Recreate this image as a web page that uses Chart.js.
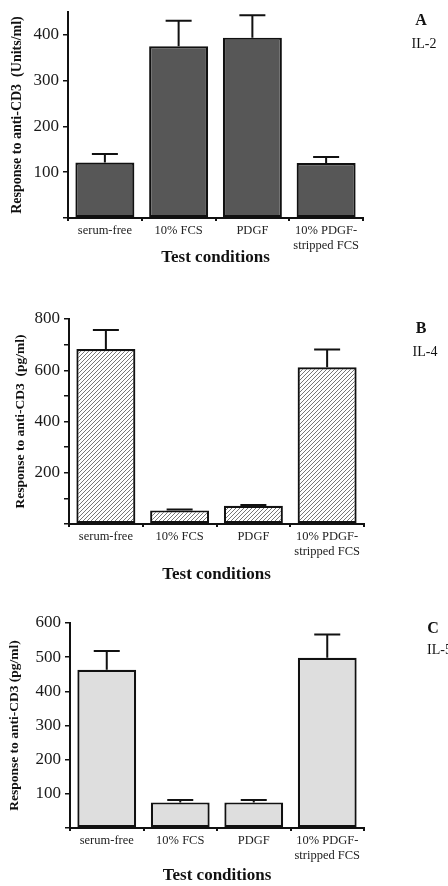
<!DOCTYPE html>
<html>
<head>
<meta charset="utf-8">
<script src="https://cdn.jsdelivr.net/npm/chart.js@4"></script>
<style>
  html, body { margin: 0; padding: 0; background: #fff; width: 448px; height: 886px; overflow: hidden; position: relative; }
  .box { position: absolute; left: 0; width: 448px; }
  .tag { position: absolute; font-family: "Liberation Serif", serif; color: #111; white-space: nowrap; transform: translate(-50%, -50%); }
</style>
</head>
<body>
<div class="box" style="top:0;height:270px"><canvas id="chartA"></canvas></div>
<div class="box" style="top:300px;height:290px"><canvas id="chartB"></canvas></div>
<div class="box" style="top:600px;height:286px"><canvas id="chartC"></canvas></div>

<div class="tag" style="left:421px;top:20px;font-weight:bold;font-size:16px">A</div>
<div class="tag" style="left:424px;top:44px;font-size:14px">IL-2</div>
<div class="tag" style="left:421px;top:328px;font-weight:bold;font-size:16px">B</div>
<div class="tag" style="left:425px;top:352px;font-size:14px">IL-4</div>
<div class="tag" style="left:433px;top:628px;font-weight:bold;font-size:16px">C</div>
<div class="tag" style="left:427px;top:650px;font-size:14px;transform:translate(0,-50%)">IL-5</div>

<script>
var categories = ["serum-free", "10% FCS", "PDGF", ["10% PDGF-", "stripped FCS"]];

// IL-2 (Units/ml)
var il2Values = [121, 375, 394, 120];
var il2Errors = [19, 56, 49, 13];
// IL-4 (pg/ml)
var il4Values = [683, 53, 71, 612];
var il4Errors = [74, 4, 3, 69];
// IL-5 (pg/ml)
var il5Values = [463, 75, 75, 498];
var il5Errors = [55, 7, 7, 68];

var serif = "'Liberation Serif', 'Times New Roman', serif";

// diagonal hatch for the IL-4 bars
function hatch() {
    var c = document.createElement("canvas");
    c.width = 4; c.height = 4;
    var g = c.getContext("2d");
    g.fillStyle = "#fff";
    g.fillRect(0, 0, 4, 4);
    g.strokeStyle = "#777";
    g.lineWidth = 1;
    g.beginPath();
    g.moveTo(0, 4); g.lineTo(4, 0);
    g.moveTo(-1, 1); g.lineTo(1, -1);
    g.moveTo(3, 5); g.lineTo(5, 3);
    g.stroke();
    return g.createPattern(c, "repeat");
}

var errorBars = {
    id: "errorBars",
    afterDatasetsDraw(chart) {
        var ctx = chart.ctx;
        var ds = chart.data.datasets[0];
        var y = chart.scales.y;
        ctx.save();
        ctx.strokeStyle = "#111";
        ctx.lineWidth = 2;
        chart.getDatasetMeta(0).data.forEach(function (bar, i) {
            var top = y.getPixelForValue(ds.data[i] + ds.errors[i]);
            ctx.beginPath();
            ctx.moveTo(bar.x, bar.y);
            ctx.lineTo(bar.x, top);
            ctx.moveTo(bar.x - 13, top);
            ctx.lineTo(bar.x + 13, top);
            ctx.stroke();
        });
        ctx.restore();
    }
};

function makePanel(id, values, errors, fill, yMax, step, major, yTitle, p) {
    return new Chart(document.getElementById(id), {
        type: "bar",
        data: {
            labels: categories,
            datasets: [{
                data: values,
                errors: errors,
                backgroundColor: fill,
                borderColor: "#111",
                borderWidth: 2.2,
                borderSkipped: false,
                barPercentage: 0.8,
                categoryPercentage: 1.0
            }]
        },
        options: {
            responsive: true,
            maintainAspectRatio: false,
            animation: false,
            layout: { padding: { top: p.top, right: p.right, left: 0, bottom: 0 } },
            plugins: { legend: { display: false }, tooltip: { enabled: false } },
            scales: {
                x: {
                    afterFit: function (s) { s.height = p.xh; s.paddingLeft = 0; s.paddingRight = 0; },
                    border: { color: "#111", width: 2 },
                    grid: { offset: true, drawOnChartArea: false, tickLength: 3, color: "#111", lineWidth: 2 },
                    ticks: { autoSkip: false, maxRotation: 0, padding: 2, color: "#222",
                             font: { family: serif, size: 12.5 } },
                    title: { display: true, text: "Test conditions", color: "#111",
                             font: { family: serif, size: 17, weight: "bold" },
                             padding: { top: 0, bottom: p.xtb } }
                },
                y: {
                    min: 0,
                    max: yMax,
                    afterFit: function (s) { s.width = p.left; s.paddingTop = 0; s.paddingBottom = 0; },
                    border: { color: "#111", width: 2 },
                    grid: { drawOnChartArea: false, tickLength: 5, color: "#111", lineWidth: 1.5 },
                    ticks: {
                        stepSize: step,
                        padding: 4,
                        color: "#1a1a1a",
                        font: { family: serif, size: 17 },
                        callback: function (v) { return (v > 0 && v % major === 0) ? String(v) : ""; }
                    },
                    title: { display: true, text: yTitle, color: "#111",
                             font: { family: serif, size: p.yts, weight: "bold" },
                             padding: { top: p.ytp, bottom: 0 } }
                }
            }
        },
        plugins: [errorBars]
    });
}

makePanel("chartA", il2Values, il2Errors, "#575757", 450, 50, 100,
    "Response to anti-CD3  (Units/ml)", { top: 12, right: 85, left: 68, xh: 52, xtb: 2, ytp: 9, yts: 14 });
makePanel("chartB", il4Values, il4Errors, hatch(), 800, 100, 200,
    "Response to anti-CD3  (pg/ml)", { top: 19, right: 84, left: 69, xh: 66, xtb: 5, ytp: 12, yts: 13.5 });
makePanel("chartC", il5Values, il5Errors, "#dedede", 600, 50, 100,
    "Response to anti-CD3 (pg/ml)", { top: 23, right: 84, left: 70, xh: 58, xtb: 0, ytp: 6, yts: 13.5 });
</script>
</body>
</html>
